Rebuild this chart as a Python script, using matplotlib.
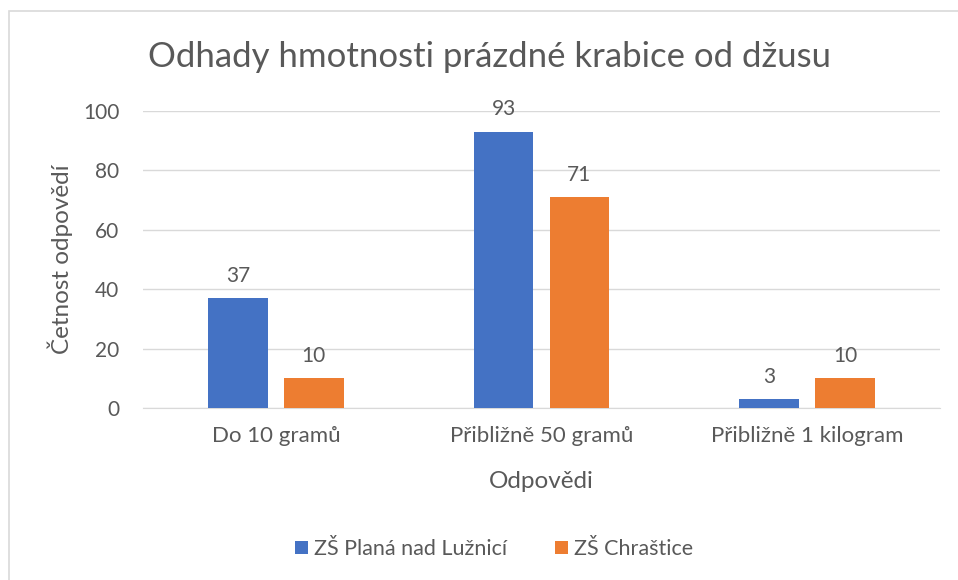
import matplotlib
matplotlib.use("Agg")
import matplotlib.pyplot as plt
from matplotlib.patches import Rectangle
import numpy as np

categories = ["Do 10 gramů", "Přibližně 50 gramů", "Přibližně 1 kilogram"]
series_names = ["ZŠ Planá nad Lužnicí", "ZŠ Chraštice"]
plana = [37, 93, 3]
chrastice = [10, 71, 10]
yticks = [0, 20, 40, 60, 80, 100]

W, H = 958, 580
plt.rcParams['font.family'] = ['Lato', 'DejaVu Sans']
TXT = '#595959'
fig = plt.figure(figsize=(W / 100, H / 100), dpi=100)
fig.patches.append(Rectangle((9 / W, -0.1), 1.2, 1 - 11 / H + 0.1, transform=fig.transFigure,
                             fill=False, edgecolor='#D9D9D9', linewidth=1.2))

ax = fig.add_axes([143 / W, 1 - 408 / H, (940 - 143) / W, (408 - 111) / H])
x = np.arange(len(categories))
bw = 0.2256
off = 0.143
colors = ['#4472C4', '#ED7D31']
for vals, o, c, name in [(plana, -off, colors[0], series_names[0]), (chrastice, off, colors[1], series_names[1])]:
    bars = ax.bar(x + o, vals, bw, color=c, label=name, zorder=3)
    for b, v in zip(bars, vals):
        ax.annotate(str(v), (b.get_x() + b.get_width() / 2, v), xytext=(0, 9), textcoords='offset points',
                    ha='center', va='bottom', fontsize=15, color=TXT)

ax.set_xlim(-0.5, 2.5)
ax.set_ylim(0, 100)
ax.set_yticks(yticks)
ax.grid(axis='y', color='#D9D9D9', linewidth=1, zorder=0)
for s in ['top', 'right', 'left']:
    ax.spines[s].set_visible(False)
ax.spines['bottom'].set_color('#D9D9D9')
ax.tick_params(axis='y', length=0, labelsize=15, labelcolor=TXT, pad=17)
ax.tick_params(axis='x', length=0, labelsize=16, labelcolor=TXT, pad=13)
ax.set_xticks(x)
ax.set_xticklabels(categories)
fig.text(541 / W, 1 - 482 / H, "Odpovědi", ha='center', va='center', fontsize=17.5, color=TXT)
fig.text(60 / W, 1 - 259 / H, "Četnost odpovědí", ha='center', va='center', rotation=90,
         fontsize=17.5, color=TXT)
fig.text(490 / W, 1 - 57 / H, "Odhady hmotnosti prázdné krabice od džusu", ha='center', va='center',
         fontsize=25, color=TXT)
leg = fig.legend(loc='center', bbox_to_anchor=(494 / W, 1 - 549 / H), ncol=2, frameon=False,
                 fontsize=15.5, handlelength=0.6, handleheight=0.6, columnspacing=2.2, handletextpad=0.3)
for t in leg.get_texts():
    t.set_color(TXT)
fig.savefig("out.png", dpi=100)
